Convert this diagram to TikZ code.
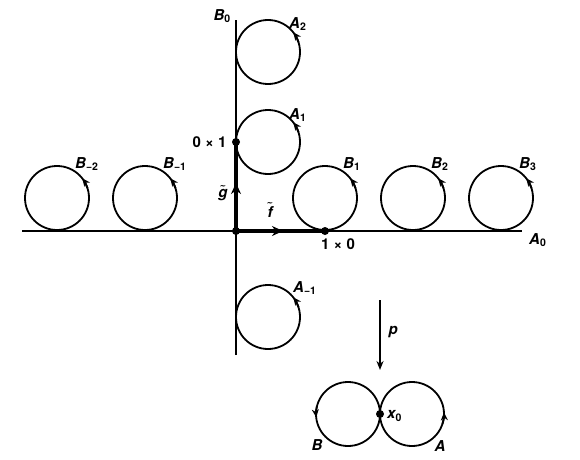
\documentclass[tikz,border=0pt]{standalone}
\usepackage{fontspec}
\setmainfont{TeX Gyre Heros}
\usetikzlibrary{arrows.meta}

\newcommand{\idx}[2]{#1\textsubscript{\upshape #2}}
\newcommand{\tld}[1]{{\boldmath$\tilde{\textbf{\textit{#1}}}$}}

\begin{document}
\begin{tikzpicture}[x=1pt, y=1pt,
  font=\fontsize{15}{17}\selectfont\bfseries\itshape,
  ring/.style={circle, draw, line width=1.8pt, minimum size=64pt, inner sep=0pt, outer sep=0pt},
  axis/.style={line width=1.6pt},
  lift/.style={line width=3.6pt},
  tip/.style={line width=1.8pt, -{Stealth[length=8pt,width=7pt]}},
  dot/.style={circle, fill, inner sep=0pt, minimum size=8pt},
  lbl/.style={inner sep=1pt, anchor=south west}
]
\useasboundingbox (0,0) rectangle (580,459);

% axes
\coordinate (xl) at (22,228);
\coordinate (xr) at (522,228);
\coordinate (yb) at (236,104);
\coordinate (yt) at (236,439);
\draw[axis] (xl) -- (xr);
\draw[axis] (yb) -- (yt);
\node[anchor=west, inner sep=1pt] (a0) at (528,219) {\idx{A}{0}};
\node[anchor=east, inner sep=1pt] (b0) at (232,443) {\idx{B}{0}};

% lifts of the loops
\coordinate (O) at (236,228);
\coordinate (P10) at (325,228);
\coordinate (P01) at (236,317);
\coordinate (fm) at (283,228);
\coordinate (gm) at (236,276);
\draw[lift] (O) -- (P10);
\draw[lift] (O) -- (P01);
\draw[lift, -{Stealth[length=11pt,width=10pt]}] (O) -- (fm);
\draw[lift, -{Stealth[length=11pt,width=10pt]}] (O) -- (gm);
\node[dot] (o) at (O) {};
\node[dot] (p10) at (P10) {};
\node[dot] (p01) at (P01) {};
\node[font=\fontsize{15}{17}\selectfont\bfseries\upshape] (t10) at (338,215) {1 × 0};
\node[font=\fontsize{15}{17}\selectfont\bfseries\upshape, anchor=east] (t01) at (230,317) {0 × 1};
\node[inner sep=0pt] (ft) at (270,249) {\tld{f}};
\node[inner sep=0pt] (gt) at (223,266) {\tld{g}};

% circles on the horizontal axis
\node[ring] (Bm2) at (57,261) {};
\node[ring] (Bm1) at (145,261) {};
\node[ring] (B1) at (325,261) {};
\node[ring] (B2) at (413,261) {};
\node[ring] (B3) at (501,261) {};
\foreach \c in {Bm2,Bm1,B1,B2,B3}
  \draw[tip] (\c.18) arc[start angle=18, end angle=38, radius=32];
\node[lbl] (lBm2) at (74,287) {\idx{B}{−2}};
\node[lbl] (lBm1) at (162,287) {\idx{B}{−1}};
\node[lbl] (lB1) at (342,287) {\idx{B}{1}};
\node[lbl] (lB2) at (430,287) {\idx{B}{2}};
\node[lbl] (lB3) at (518,287) {\idx{B}{3}};

% circles on the vertical axis
\node[ring] (A2) at (268,407) {};
\node[ring] (A1) at (268,317) {};
\node[ring] (Am1) at (268,142) {};
\foreach \c in {A2,A1,Am1}
  \draw[tip] (\c.18) arc[start angle=18, end angle=38, radius=32];
\node[lbl] (lA2) at (288,427) {\idx{A}{2}};
\node[lbl] (lA1) at (288,336) {\idx{A}{1}};
\node[lbl] (lAm1) at (292,163) {\idx{A}{−1}};

% covering map
\coordinate (pt) at (380,159);
\coordinate (pb) at (380,89);
\draw[axis, -{Stealth[length=9pt,width=7pt]}] (pt) -- (pb);
\node[anchor=west] (p) at (385,127) {p};

% figure eight
\node[ring] (L) at (348,45) {};
\node[ring] (R) at (412,45) {};
\draw[tip] (L.165) arc[start angle=165, end angle=186, radius=32];
\draw[tip] (R.-18) arc[start angle=-18, end angle=3, radius=32];
\node[dot] (x0) at (380,45) {};
\node[anchor=west, inner sep=1pt] (lx0) at (386,43) {\idx{x}{0}};
\node (lB) at (317,14) {B};
\node (lA) at (440,13) {A};
\end{tikzpicture}
\end{document}
